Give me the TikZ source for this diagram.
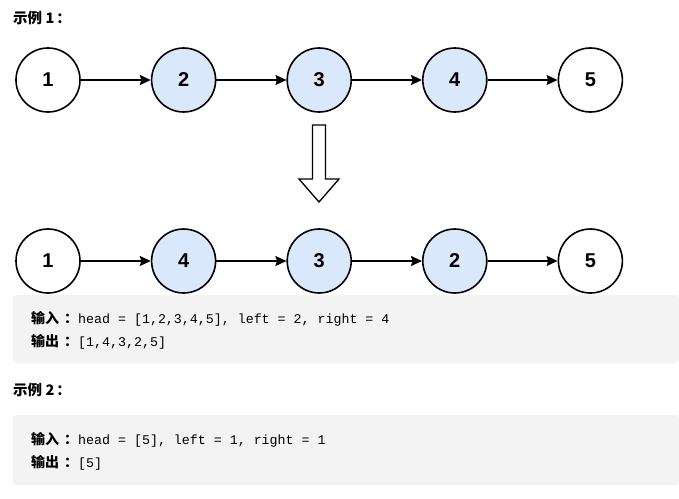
\documentclass[tikz,border=0pt]{standalone}
\usepackage{fontspec}
\usepackage{xcolor}
\setmainfont{Liberation Sans}
\setmonofont{Liberation Mono}
\newfontfamily\cjk{Noto Sans CJK SC}
\usetikzlibrary{arrows.meta,positioning}
\definecolor{Ink}{HTML}{000000}
\definecolor{NodeBlue}{HTML}{DAE8FC}
\definecolor{CodeGray}{HTML}{F3F3F3}
\newcommand{\zh}[1]{{\cjk\bfseries\fontsize{14}{16}\selectfont #1}}
\newcommand{\code}[1]{{\ttfamily\fontsize{13.3}{16}\selectfont #1}}

\begin{document}
\begin{tikzpicture}[
    x=1pt, y=-1pt,
    node distance=70pt,
    listnode/.style={circle, draw=Ink, line width=1.6pt, fill=white, minimum size=64pt, inner sep=0pt, font=\fontsize{20}{24}\selectfont\bfseries},
    link/.style={-{Stealth[length=11pt,width=10pt,inset=1.5pt]}, line width=1.4pt, draw=Ink},
    codebox/.style={fill=CodeGray, rounded corners=3pt},
    heading/.style={anchor=base west, inner sep=0pt, font=\cjk\bfseries\fontsize{14.5}{16}\selectfont},
    codeline/.style={anchor=base west, inner sep=0pt}
  ]
    \useasboundingbox (0,0) rectangle (679,498);

    % example 1
    \node[heading] (t1) at (13,23) {示例 1\kern2pt：};

    \node[listnode] (a1) at (48,80) {1};
    \node[listnode, right=of a1, fill=NodeBlue] (a2) {2};
    \node[listnode, right=of a2, fill=NodeBlue] (a3) {3};
    \node[listnode, right=of a3, fill=NodeBlue] (a4) {4};
    \node[listnode, right=of a4] (a5) {5};

    \draw[link] (a1) -- (a2);
    \draw[link] (a2) -- (a3);
    \draw[link] (a3) -- (a4);
    \draw[link] (a4) -- (a5);

    % hollow arrow
    \draw[line width=1.3pt, draw=Ink, fill=white]
      (312.5,125) -- (325.5,125) -- (325.5,179) -- (339,179) -- (319,202)
      -- (299,179) -- (312.5,179) -- cycle;

    \node[listnode] (b1) at (48,261) {1};
    \node[listnode, right=of b1, fill=NodeBlue] (b2) {4};
    \node[listnode, right=of b2, fill=NodeBlue] (b3) {3};
    \node[listnode, right=of b3, fill=NodeBlue] (b4) {2};
    \node[listnode, right=of b4] (b5) {5};

    \draw[link] (b1) -- (b2);
    \draw[link] (b2) -- (b3);
    \draw[link] (b3) -- (b4);
    \draw[link] (b4) -- (b5);

    \fill[codebox] (13,295) rectangle (679,363);
    \node[codeline] (in1) at (31,323) {\zh{输入}\kern5pt\zh{：}\code{head = [1,2,3,4,5], left = 2, right = 4}};
    \node[codeline] (out1) at (31,346) {\zh{输出}\kern5pt\zh{：}\code{[1,4,3,2,5]}};

    % example 2
    \node[heading] (t2) at (13,395) {示例 2\kern2pt：};

    \fill[codebox] (13,415) rectangle (679,485);
    \node[codeline] (in2) at (31,444) {\zh{输入}\kern5pt\zh{：}\code{head = [5], left = 1, right = 1}};
    \node[codeline] (out2) at (31,467) {\zh{输出}\kern5pt\zh{：}\code{[5]}};
  \end{tikzpicture}
\end{document}
